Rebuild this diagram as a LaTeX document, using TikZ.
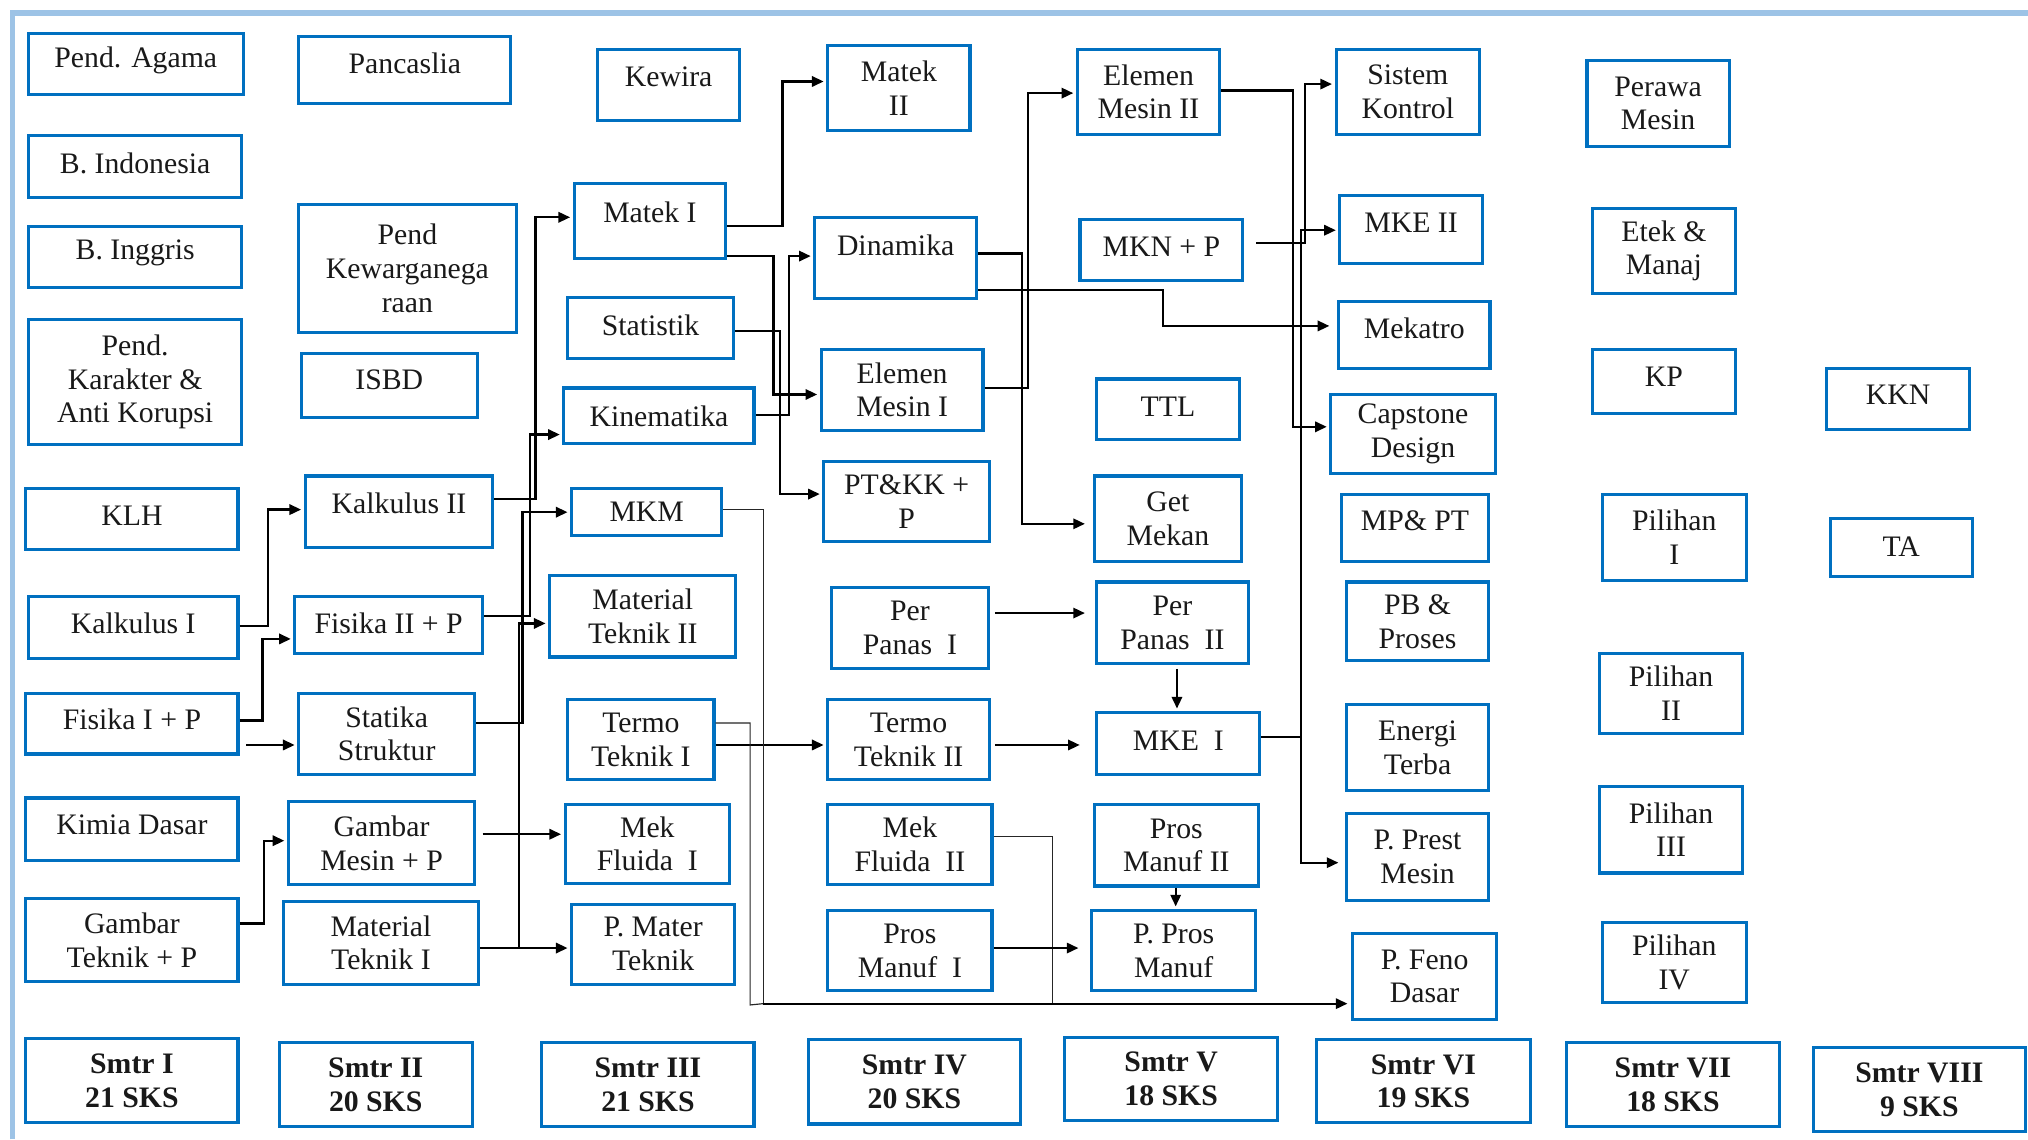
\documentclass[tikz,border=0pt]{standalone}
\usepackage{fontspec}
\setmainfont{Liberation Serif}
\usetikzlibrary{arrows.meta}
\definecolor{boxblue}{RGB}{0,112,192}
\definecolor{framebl}{RGB}{157,195,230}
\newcommand\up[2]{\raisebox{#1pt}[\height][\depth]{#2}}
\newcommand\bx[7][box]{%
  \pgfmathsetmacro\bxcx{(#3+#5)/2}%
  \pgfmathsetmacro\bxcy{(#4+#6)/2}%
  \pgfmathsetmacro\bxw{#5-#3}%
  \pgfmathsetmacro\bxh{#6-#4}%
  \node[#1, minimum width=\bxw pt, minimum height=\bxh pt] (#2) at (\bxcx,\bxcy) {#7};}
\tikzset{
  box/.style={draw=boxblue, line width=2.4pt, align=center, inner sep=1pt,
    text=black!90, font=\fontsize{23}{26}\selectfont},
  sbox/.style={box, font=\bfseries\fontsize{23}{26}\selectfont},
  conn/.style={draw=black, line width=1.7pt, -{Triangle[length=9pt,width=8pt]}, shorten >=2pt},
  thinconn/.style={draw=black!85, line width=0.9pt},
  frameline/.style={draw=framebl, line width=4pt}
}
\begin{document}
\begin{tikzpicture}[x=1pt,y=-1pt]
\fill[white] (0,0) rectangle (1568,881);
\useasboundingbox (0,0) rectangle (1568,881);
\draw[frameline] (9.5,881) -- (9.5,10) -- (1568,10);

% Column 1
\bx{agama}{22}{26}{188}{73}{\up{3}{Pend. Agama}}
\bx{bindo}{22}{105}{187}{153}{\up{3}{B. Indonesia}}
\bx{bing}{22}{175}{187}{222}{\up{3}{B. Inggris}}
\bx{karakter}{22}{247}{187}{344}{Pend.\\Karakter \&\\Anti Korupsi}
\bx{klh}{20}{378}{184}{425}{\up{3}{KLH}}
\bx{kal1}{22}{461}{184}{509}{\up{3}{Kalkulus I}}
\bx{fis1}{20}{536}{184}{583}{\up{3}{Fisika I + P}}
\bx{kimia}{20}{617}{184}{665}{\up{3}{Kimia Dasar}}
\bx{gamt}{20}{695}{184}{759}{Gambar\\Teknik + P}
\bx[sbox]{s1}{20}{803}{184}{868}{Smtr I\\21 SKS}

% Column 2
\bx{panc}{231}{28}{395}{80}{\up{5}{Pancaslia}}
\bx{kwn}{231}{158}{399}{257}{Pend\\Kewarganega\\raan}
\bx{isbd}{233}{273}{369}{323}{\up{4}{ISBD}}
\bx{kal2}{236}{368}{381}{423}{\up{6}{Kalkulus II}}
\bx{fis2}{228}{461}{373}{505}{\up{1}{Fisika II + P}}
\bx{stat}{231}{536}{367}{599}{Statika\\Struktur}
\bx{gamm}{223}{620}{367}{684}{Gambar\\Mesin + P}
\bx{mt1}{219}{697}{370}{761}{Material\\Teknik I}
\bx[sbox]{s2}{216}{806}{365}{871}{Smtr II\\20 SKS}

% Column 3
\bx{kewira}{462}{38}{572}{93}{\up{6}{Kewira}}
\bx{matek1}{444}{142}{561}{200}{\up{7}{Matek I}}
\bx{statis}{439}{230}{567}{277}{\up{2}{Statistik}}
\bx{kinem}{436}{300}{583}{343}{Kinematika}
\bx{mkm}{442}{378}{558}{414}{MKM}
\bx{mt2}{425}{445}{569}{508}{Material\\Teknik II}
\bx{tt1}{439}{541}{552}{603}{Termo\\Teknik I}
\bx{mf1}{437}{622}{564}{683}{Mek\\Fluida\ \ I}
\bx{pmat}{442}{699}{568}{761}{P. Mater\\Teknik}
\bx[sbox]{s3}{419}{806}{583}{871}{Smtr III\\21 SKS}

% Column 4
\bx{matek2}{640}{35}{750}{101}{Matek\\II}
\bx{dinam}{630}{168}{755}{231}{\up{10}{Dinamika}}
\bx{em1}{635}{270}{760}{333}{Elemen\\Mesin I}
\bx{ptkk}{637}{357}{765}{419}{PT\&KK +\\P}
\bx{pp1}{643}{454}{764}{517}{Per\\Panas\ \ I}
\bx{tt2}{640}{541}{765}{603}{Termo\\Teknik II}
\bx{mf2}{640}{622}{767}{684}{Mek\\Fluida\ \ II}
\bx{pm1}{640}{704}{767}{766}{Pros\\Manuf\ \ I}
\bx[sbox]{s4}{625}{804}{789}{869}{Smtr IV\\20 SKS}

% Column 5
\bx{em2}{833}{38}{943}{104}{Elemen\\Mesin II}
\bx{mkn}{835}{170}{961}{217}{\up{3}{MKN + P}}
\bx{ttl}{848}{293}{958}{340}{\up{2}{TTL}}
\bx{getm}{846}{368}{960}{434}{Get\\Mekan}
\bx{pp2}{848}{450}{965}{513}{Per\\Panas\ \ II}
\bx{mke1}{848}{551}{974}{599}{\up{2}{MKE\ \ I}}
\bx{pm2}{846}{622}{973}{685}{Pros\\Manuf II}
\bx{ppm}{844}{704}{971}{766}{P. Pros\\Manuf}
\bx[sbox]{s5}{823}{802}{988}{866}{Smtr V\\18 SKS}

% Column 6
\bx{sk}{1033}{38}{1144}{104}{Sistem\\Kontrol}
\bx{mke2}{1036}{151}{1146}{204}{\up{5}{MKE II}}
\bx{mekat}{1035}{233}{1152}{285}{\up{5}{Mekatro}}
\bx{caps}{1029}{305}{1156}{366}{Capstone\\Design}
\bx{mppt}{1037}{382}{1151}{434}{\up{5}{MP\& PT}}
\bx{pb}{1041}{450}{1151}{511}{PB \&\\Proses}
\bx{energi}{1041}{545}{1151}{611}{Energi\\Terba}
\bx{pprest}{1041}{629}{1151}{696}{P. Prest\\Mesin}
\bx{pfeno}{1046}{722}{1157}{788}{P. Feno\\Dasar}
\bx[sbox]{s6}{1018}{804}{1183}{868}{Smtr VI\\19 SKS}

% Column 7
\bx{perawa}{1227}{47}{1337}{113}{Perawa\\Mesin}
\bx{etek}{1231}{161}{1342}{227}{Etek \&\\Manaj}
\bx{kp}{1231}{270}{1342}{320}{\up{4}{KP}}
\bx{pil1}{1239}{382}{1350}{449}{Pilihan\\I}
\bx{pil2}{1237}{505}{1347}{567}{Pilihan\\II}
\bx{pil3}{1237}{608}{1347}{675}{Pilihan\\III}
\bx{pil4}{1239}{713}{1350}{775}{Pilihan\\IV}
\bx[sbox]{s7}{1211}{806}{1376}{871}{Smtr VII\\18 SKS}

% Column 8
\bx{kkn}{1412}{285}{1523}{332}{\up{3}{KKN}}
\bx{ta}{1415}{401}{1525}{446}{\up{1}{TA}}
\bx[sbox]{s8}{1402}{810}{1566}{875}{Smtr VIII\\9 SKS}

% Junctions on the line into P. Feno Dasar
\coordinate (jfeno) at (590,776);
\coordinate (jtt) at (580,777);
\coordinate (jmf) at (814,776);

% Connectors: semester I -> II
\draw[conn] (kal1.east |- 0,484) -- (207,484) |- (kal2.west |- 0,394);
\draw[conn] (fis1.east |- 0,557) -- (203,557) |- (fis2.west |- 0,494);
\draw[conn, shorten <=5pt] (fis1.east |- 0,576) -- (stat.west |- 0,576);
\draw[conn] (gamt.east |- 0,714) -- (204,714) |- (gamm.west |- 0,650);

% semester II -> III
\draw[conn] (kal2.east |- 0,386) -- (414,386) |- (matek1.west |- 0,168);
\draw[conn] (fis2.east |- 0,476) -- (410,476) |- (kinem.west |- 0,336);
\draw[conn] (stat.east |- 0,559) -- (404,559) |- (mkm.west |- 0,396);
\draw[conn] (mt1.east |- 0,733) -- (401,733) |- (mt2.west |- 0,482);
\draw[conn, shorten <=5pt] (gamm.east |- 0,645) -- (mf1.west |- 0,645);
\draw[conn] (mt1.east |- 0,733) -- (pmat.west |- 0,733);

% semester III -> IV
\draw[conn] (matek1.east |- 0,175) -- (605,175) |- (matek2.west |- 0,63);
\draw[conn] (matek1.east |- 0,198) -- (598,198) |- (em1.west |- 0,305);
\draw[conn] (statis.east |- 0,256) -- (603,256) |- (ptkk.west |- 0,382);
\draw[conn] (kinem.east |- 0,321) -- (610,321) |- (dinam.west |- 0,198);
\draw[conn] (tt1.east |- 0,576) -- (tt2.west |- 0,576);

% lines into P. Feno Dasar
\draw[thinconn] (mkm.east |- 0,394) -| (jfeno);
\draw[thinconn] (tt1.east |- 0,559) -| (jtt) -- (jfeno);
\draw[thinconn] (mf2.east |- 0,647) -| (jmf);
\draw[conn, shorten >=3pt] (jfeno) -- (pfeno.west |- jfeno);

% semester IV -> V
\draw[conn, shorten >=6pt] (dinam.east |- 0,196) -- (790,196) |- (getm.west |- 0,405);
\draw[conn, shorten >=6pt] (dinam.east |- 0,224) -- (899,224) |- (mekat.west |- 0,252);
\draw[conn] (em1.east |- 0,300) -- (795,300) |- (em2.west |- 0,72);
\draw[conn, shorten <=4pt, shorten >=8pt] (pp1.east |- 0,474) -- (pp2.west |- 0,474);
\draw[conn, shorten <=3pt] (910,0 |- pp2.south) -- (910,0 |- mke1.north);
\draw[conn, shorten <=3pt, shorten >=12pt] (tt2.east |- 0,576) -- (mke1.west |- 0,576);
\draw[conn, shorten >=9pt] (pm1.east |- 0,733) -- (ppm.west |- 0,733);
\draw[conn] (909,0 |- pm2.south) -- (909,0 |- ppm.north);

% semester V -> VI
\draw[conn] (em2.east |- 0,70) -- (1000,70) |- (caps.west |- 0,330);
\draw[conn, shorten <=9pt] (mkn.east |- 0,188) -- (1009,188) |- (sk.west |- 0,65);
\draw[conn] (mke1.east |- 0,570) -- (1006,570) |- (mke2.west |- 0,178);
\draw[conn, shorten >=5pt] (mke1.east |- 0,570) -- (1006,570) |- (pprest.west |- 0,667);
\end{tikzpicture}
\end{document}
